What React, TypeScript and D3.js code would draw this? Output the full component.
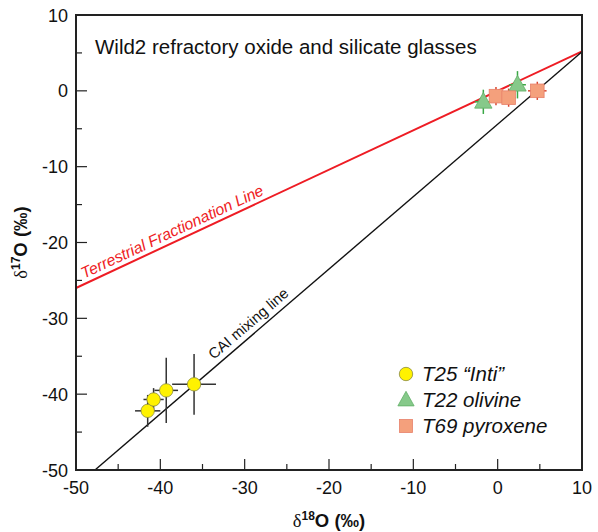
import React from "react";
import * as d3 from "d3";

const W = 598, H = 532;
const M = { left: 76, right: 582, top: 15, bottom: 470 };

const xTicks = [-50, -40, -30, -20, -10, 0, 10];
const yTicks = [-50, -40, -30, -20, -10, 0, 10];
const xMinor = [-45, -35, -25, -15, -5, 5];
const yMinor = [-45, -35, -25, -15, -5, 5];

// T25 "Inti"
const intiX = [-41.5, -40.8, -39.3, -36.0];
const intiY = [-42.2, -40.7, -39.5, -38.7];
const intiXErr = [1.5, 1.2, 1.4, 2.6];
const intiYErr = [2.1, 1.5, 4.3, 4.0];
// T22 olivine
const olivX = [-1.7, 2.35];
const olivY = [-1.45, 0.8];
const olivXErr = [1.0, 1.0];
const olivYErr = [1.6, 1.8];
// T69 pyroxene
const pyrX = [-0.2, 1.3, 4.7];
const pyrY = [-0.7, -0.9, 0.0];
const pyrXErr = [0.8, 0.8, 1.1];
const pyrYErr = [1.2, 1.2, 1.2];

const tflSlope = 0.52;
const caiSlope = 0.955;
const caiIntercept = -4.4;

export default function App() {
  const x = d3.scaleLinear().domain([-50, 10]).range([M.left, M.right]);
  const y = d3.scaleLinear().domain([-50, 10]).range([M.bottom, M.top]);
  const font = "'Liberation Sans', Arial, sans-serif";

  const tflLine = d3.line<number>().x((d) => x(d)).y((d) => y(tflSlope * d));
  const caiX0 = (-50 - caiIntercept) / caiSlope;
  const caiLine = d3.line<number>().x((d) => x(d)).y((d) => y(caiSlope * d + caiIntercept));

  const tflAngle = (Math.atan2(y(tflSlope * 10) - y(0), x(10) - x(0)) * 180) / Math.PI;
  const caiAngle = (Math.atan2(y(caiSlope * 10) - y(0), x(10) - x(0)) * 180) / Math.PI;

  const errBars = (xs: number[], ys: number[], xe: number[], ye: number[], color: string, key: string) =>
    xs.map((v, i) => (
      <g key={key + i} stroke={color} strokeWidth={1.5}>
        <line x1={x(v - xe[i])} x2={x(v + xe[i])} y1={y(ys[i])} y2={y(ys[i])} />
        <line x1={x(v)} x2={x(v)} y1={y(ys[i] - ye[i])} y2={y(ys[i] + ye[i])} />
      </g>
    ));

  const tri = (cx: number, cy: number, s: number) =>
    `M${cx},${cy - s * 0.62} L${cx + s * 0.58},${cy + s * 0.42} L${cx - s * 0.58},${cy + s * 0.42} Z`;

  const tflStart = -48.8;
  const caiStart = -33.2;

  return (
    <svg width={W} height={H} style={{ position: "absolute", left: 0, top: 0 }}>
      <rect width={W} height={H} fill="#fff" />
      {/* lines */}
      <path d={tflLine([-50, 10]) || ""} stroke="#ee1c24" strokeWidth={2} fill="none" />
      <path d={caiLine([caiX0, 10]) || ""} stroke="#111" strokeWidth={1.4} fill="none" />
      <text
        transform={`translate(${x(tflStart)},${y(tflSlope * tflStart)}) rotate(${tflAngle})`}
        dy={-5}
        fontFamily={font}
        fontStyle="italic"
        fontSize={15.8}
        fill="#ee1c24"
      >
        Terrestrial Fractionation Line
      </text>
      <text
        transform={`translate(${x(caiStart)},${y(caiSlope * caiStart + caiIntercept)}) rotate(${caiAngle})`}
        dy={-6}
        fontFamily={font}
        fontSize={15}
        fill="#111"
      >
        CAI mixing line
      </text>

      {/* error bars */}
      {errBars(intiX, intiY, intiXErr, intiYErr, "#333", "ie")}
      {errBars(olivX, olivY, olivXErr, olivYErr, "#3aa845", "oe")}
      {errBars(pyrX, pyrY, pyrXErr, pyrYErr, "#d9452f", "pe")}

      {/* markers */}
      {intiX.map((v, i) => (
        <circle key={"ic" + i} cx={x(v)} cy={y(intiY[i])} r={6.7} fill="#fff200" stroke="#8a8a40" strokeWidth={0.8} />
      ))}
      {olivX.map((v, i) => (
        <path key={"ot" + i} d={tri(x(v), y(olivY[i]), 15)} fill="#86c98a" stroke="#5fae66" strokeWidth={0.8} />
      ))}
      {pyrX.map((v, i) => (
        <rect key={"pr" + i} x={x(v) - 6.8} y={y(pyrY[i]) - 6.8} width={13.6} height={13.6} fill="#f4a07c" stroke="#e8806a" strokeWidth={0.8} />
      ))}

      {/* frame */}
      <rect x={M.left} y={M.top} width={M.right - M.left} height={M.bottom - M.top} fill="none" stroke="#222" strokeWidth={2} />
      {/* ticks */}
      {xTicks.slice(1, -1).map((t) => (
        <line key={"xt" + t} x1={x(t)} x2={x(t)} y1={M.bottom} y2={M.bottom - 11} stroke="#222" strokeWidth={1.2} />
      ))}
      {xMinor.map((t) => (
        <line key={"xm" + t} x1={x(t)} x2={x(t)} y1={M.bottom} y2={M.bottom - 6} stroke="#222" strokeWidth={1.2} />
      ))}
      {yTicks.slice(1, -1).map((t) => (
        <line key={"yt" + t} x1={M.left} x2={M.left + 11} y1={y(t)} y2={y(t)} stroke="#222" strokeWidth={1.2} />
      ))}
      {yMinor.map((t) => (
        <line key={"ym" + t} x1={M.left} x2={M.left + 6} y1={y(t)} y2={y(t)} stroke="#222" strokeWidth={1.2} />
      ))}
      {xTicks.map((t) => (
        <text key={"xl" + t} x={x(t)} y={M.bottom + 24} textAnchor="middle" fontFamily={font} fontSize={18} fill="#111">
          {t}
        </text>
      ))}
      {yTicks.map((t) => (
        <text key={"yl" + t} x={M.left - 8} y={y(t) + 6.5} textAnchor="end" fontFamily={font} fontSize={18} fill="#111">
          {t}
        </text>
      ))}

      {/* axis titles */}
      <text x={(M.left + M.right) / 2} y={527} textAnchor="middle" fontFamily={font} fontSize={18.5} fontWeight="bold" fill="#111">
        <tspan fontFamily="'Liberation Serif', 'Times New Roman', serif" fontWeight="normal">δ</tspan>
        <tspan fontSize={12} dy={-7}>18</tspan>
        <tspan dy={7}>O (‰)</tspan>
      </text>
      <text
        transform={`translate(27,${(M.top + M.bottom) / 2}) rotate(-90)`}
        textAnchor="middle"
        fontFamily={font}
        fontSize={18.5}
        fontWeight="bold"
        fill="#111"
      >
        <tspan fontFamily="'Liberation Serif', 'Times New Roman', serif" fontWeight="normal">δ</tspan>
        <tspan fontSize={12} dy={-7}>17</tspan>
        <tspan dy={7}>O (‰)</tspan>
      </text>

      {/* title */}
      <text x={95} y={54} fontFamily={font} fontSize={20.5} fill="#111">
        Wild2 refractory oxide and silicate glasses
      </text>

      {/* legend */}
      <circle cx={406} cy={374} r={6.7} fill="#fff200" stroke="#8a8a40" strokeWidth={0.8} />
      <text x={422} y={381} fontFamily={font} fontStyle="italic" fontSize={20.5} fill="#111">
        T25 “Inti”
      </text>
      <path d={tri(406, 400, 14)} fill="#86c98a" stroke="#5fae66" strokeWidth={0.8} />
      <text x={422} y={407} fontFamily={font} fontStyle="italic" fontSize={20.5} fill="#111">
        T22 olivine
      </text>
      <rect x={399.5} y={419.5} width={13} height={13} fill="#f4a07c" stroke="#e8806a" strokeWidth={0.8} />
      <text x={422} y={433} fontFamily={font} fontStyle="italic" fontSize={20.5} fill="#111">
        T69 pyroxene
      </text>
    </svg>
  );
}
